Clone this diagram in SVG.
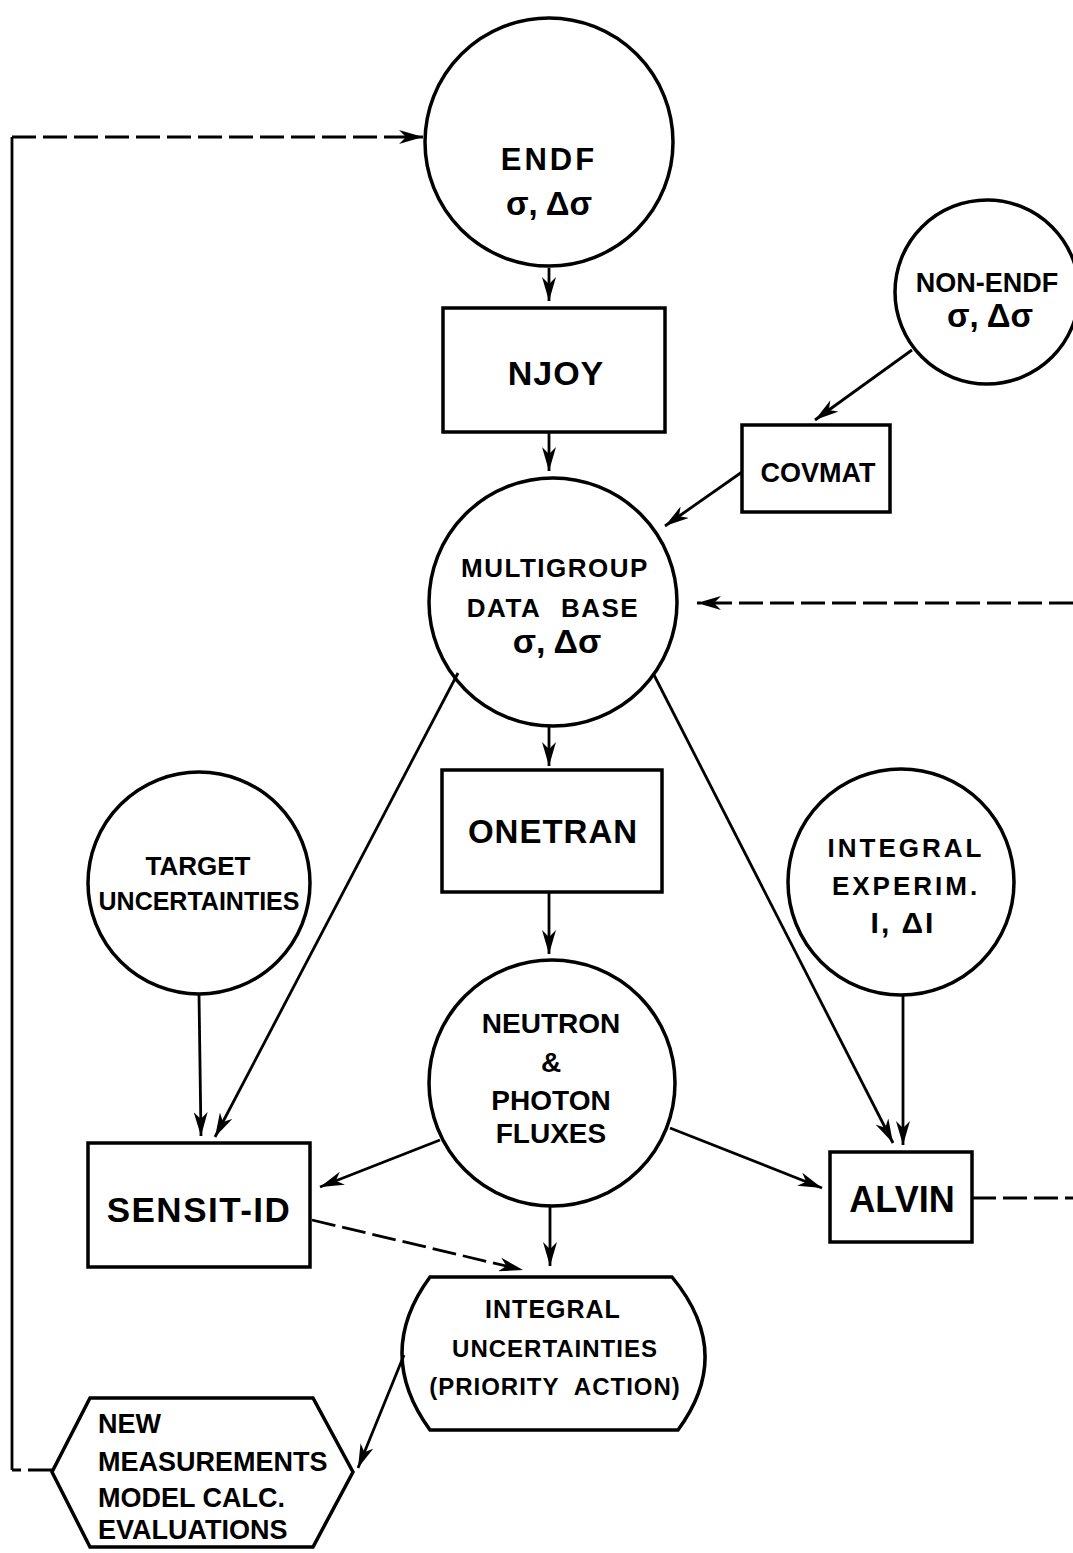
<svg xmlns="http://www.w3.org/2000/svg" width="1073" height="1553" viewBox="0 0 1073 1553">
<style>
.n{fill:none;stroke:#000;stroke-width:3.5}
.c{fill:none;stroke:#000;stroke-width:2.8}
.d{fill:none;stroke:#000;stroke-width:2.8;stroke-dasharray:24 7}
.t{font-family:"Liberation Sans",Arial,sans-serif;font-weight:bold;fill:#000;text-anchor:middle}
.l{text-anchor:start}
</style>
<defs>
<marker id="a" viewBox="0 0 24 14" refX="24" refY="7" markerWidth="24" markerHeight="14" markerUnits="userSpaceOnUse" orient="auto">
<path d="M0,0 L24,7 L0,14 L7,7 Z" fill="#000"/>
</marker>
</defs>
<rect width="1073" height="1553" fill="#fff"/>
<g id="connectors">
<path class="d" d="M52,1470 L12,1470"/>
<path class="c" d="M12,1470 L12,137"/>
<path class="d" d="M12,137 L423,137" marker-end="url(#a)"/>
<path class="c" d="M549,268 L549,301" marker-end="url(#a)"/>
<path class="c" d="M549,432 L549,471" marker-end="url(#a)"/>
<path class="c" d="M912,350 L815,420" marker-end="url(#a)"/>
<path class="c" d="M742,472 L665,526" marker-end="url(#a)"/>
<path class="d" d="M1073,603 L697,603" marker-end="url(#a)"/>
<path class="c" d="M549,726 L549,766" marker-end="url(#a)"/>
<path class="c" d="M549,892 L549,954" marker-end="url(#a)"/>
<path class="c" d="M458,673 L215,1137" marker-end="url(#a)"/>
<path class="c" d="M653,673 L893,1143" marker-end="url(#a)"/>
<path class="c" d="M199,994 L201,1136" marker-end="url(#a)"/>
<path class="c" d="M903,995 L903,1145" marker-end="url(#a)"/>
<path class="c" d="M440,1140 L320,1187" marker-end="url(#a)"/>
<path class="c" d="M670,1128 L822,1188" marker-end="url(#a)"/>
<path class="c" d="M550,1206 L550,1266" marker-end="url(#a)"/>
<path class="d" d="M312,1220 L523,1270" marker-end="url(#a)"/>
<path class="d" d="M972,1198 L1073,1198"/>
<path class="c" d="M404,1355 L358,1468" marker-end="url(#a)"/>
</g>
<g id="endf">
<circle class="n" cx="549" cy="142" r="124"/>
<text class="t" x="549" y="170" font-size="31" letter-spacing="3">ENDF</text>
<text class="t" x="549" y="215" font-size="33">σ, Δσ</text>
</g>
<g id="njoy">
<rect class="n" x="443" y="308" width="222" height="124"/>
<text class="t" x="556" y="385" font-size="34" letter-spacing="1">NJOY</text>
</g>
<g id="nonendf">
<circle class="n" cx="987" cy="292" r="92"/>
<text class="t" x="987" y="292" font-size="27">NON-ENDF</text>
<text class="t" x="990" y="327" font-size="33">σ, Δσ</text>
</g>
<g id="covmat">
<rect class="n" x="742" y="425" width="148" height="87"/>
<text class="t" x="818" y="482" font-size="27">COVMAT</text>
</g>
<g id="multigroup">
<circle class="n" cx="553" cy="602" r="124"/>
<text class="t" x="555" y="577" font-size="26" letter-spacing="1.5">MULTIGROUP</text>
<text class="t" x="553" y="617" font-size="26" letter-spacing="1.5" word-spacing="12">DATA BASE</text>
<text class="t" x="557" y="653" font-size="34">σ, Δσ</text>
</g>
<g id="onetran">
<rect class="n" x="442" y="770" width="220" height="122"/>
<text class="t" x="553" y="843" font-size="33" letter-spacing="1">ONETRAN</text>
</g>
<g id="target">
<circle class="n" cx="199" cy="883" r="111"/>
<text class="t" x="198" y="875" font-size="26">TARGET</text>
<text class="t" x="199" y="910" font-size="25">UNCERTAINTIES</text>
</g>
<g id="integralexp">
<circle class="n" cx="901" cy="882" r="113"/>
<text class="t" x="906" y="857" font-size="26" letter-spacing="3">INTEGRAL</text>
<text class="t" x="906" y="895" font-size="26" letter-spacing="3">EXPERIM.</text>
<text class="t" x="903" y="933" font-size="30" letter-spacing="2">I, ΔI</text>
</g>
<g id="neutron">
<circle class="n" cx="552" cy="1083" r="123"/>
<text class="t" x="551" y="1033" font-size="28">NEUTRON</text>
<text class="t" x="551" y="1072" font-size="28">&amp;</text>
<text class="t" x="551" y="1110" font-size="28">PHOTON</text>
<text class="t" x="551" y="1143" font-size="28">FLUXES</text>
</g>
<g id="sensit">
<rect class="n" x="88" y="1143" width="222" height="124"/>
<text class="t" x="199" y="1222" font-size="35" letter-spacing="1.5">SENSIT-ID</text>
</g>
<g id="alvin">
<rect class="n" x="830" y="1152" width="142" height="90"/>
<text class="t" x="902" y="1212" font-size="36">ALVIN</text>
</g>
<g id="integralunc">
<path class="n" d="M430,1277 L672,1277 Q735,1353 678,1430 L430,1430 Q374,1353 430,1277 Z"/>
<text class="t" x="553" y="1318" font-size="25" letter-spacing="1">INTEGRAL</text>
<text class="t" x="555" y="1357" font-size="24" letter-spacing="1">UNCERTAINTIES</text>
<text class="t" x="555" y="1395" font-size="24" letter-spacing="1" word-spacing="8">(PRIORITY ACTION)</text>
</g>
<g id="newmeas">
<path class="n" d="M90,1398 L313,1398 L353,1472 L313,1547 L90,1547 L52,1472 Z"/>
<text class="t l" x="98" y="1433" font-size="27">NEW</text>
<text class="t l" x="98" y="1471" font-size="27">MEASUREMENTS</text>
<text class="t l" x="98" y="1507" font-size="27">MODEL CALC.</text>
<text class="t l" x="98" y="1539" font-size="27">EVALUATIONS</text>
</g>
</svg>
